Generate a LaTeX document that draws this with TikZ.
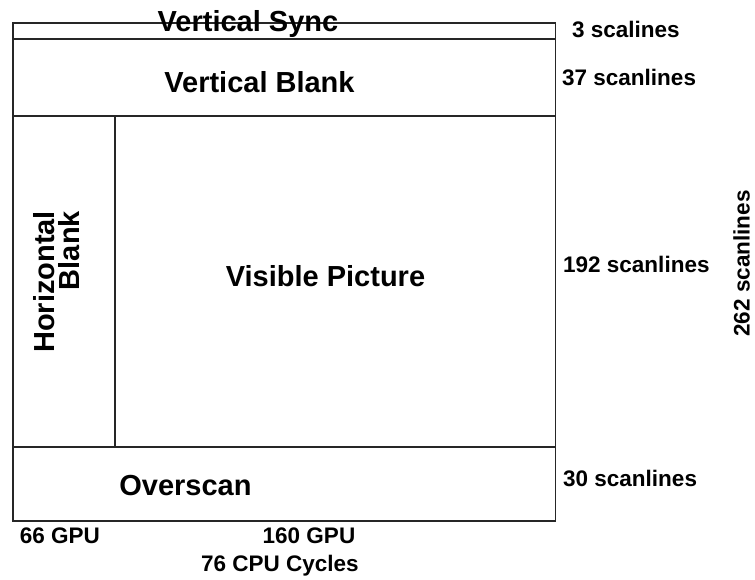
\documentclass[tikz,border=0pt]{standalone}
\usepackage{fontspec}
\setmainfont{Liberation Sans}
\begin{document}
\begin{tikzpicture}[x=1pt,y=-1pt,
  big/.style={font=\fontsize{29}{25}\selectfont\bfseries, inner sep=0pt},
  small/.style={font=\fontsize{22.5}{24}\selectfont\bfseries, inner sep=0pt},
  frame/.style={line width=1.1pt, draw=black!85}]
\useasboundingbox (0,0) rectangle (755,579);
% frame
\coordinate (tl) at (13,23);
\coordinate (br) at (555.5,521);
\draw[frame] (tl) rectangle (br);
\draw[frame, line width=1.6pt] (13,39) -- (555.5,39);
\draw[frame] (13,116) -- (555.5,116);
\draw[frame] (13,447) -- (555.5,447);
\draw[frame] (115,116) -- (115,447);
% labels
\node[big] (vs) at (248,24) {Vertical Sync};
\node[big] (vb) at (259.5,82) {Vertical Blank};
\node[big] (vp) at (325.5,276) {Visible Picture};
\node[big, rotate=90, align=right] (hb) at (56.5,282) {Horizontal\\Blank};
\node[big] (os) at (185.5,486) {Overscan};
\node[small, anchor=west] (l3) at (572,29) {3 scalines};
\node[small, anchor=west] (l37) at (562,77) {37 scanlines};
\node[small, anchor=west] (l192) at (563,264) {192 scanlines};
\node[small, anchor=west] (l30) at (563,478) {30 scanlines};
\node[small, rotate=90] (l262) at (741.5,263.5) {262 scanlines};
\node[small] (g66) at (60,536) {66 GPU};
\node[small] (g160) at (309,536) {160 GPU};
\node[small] (cpu) at (280,566) {76 CPU Cycles};
\end{tikzpicture}
\end{document}
